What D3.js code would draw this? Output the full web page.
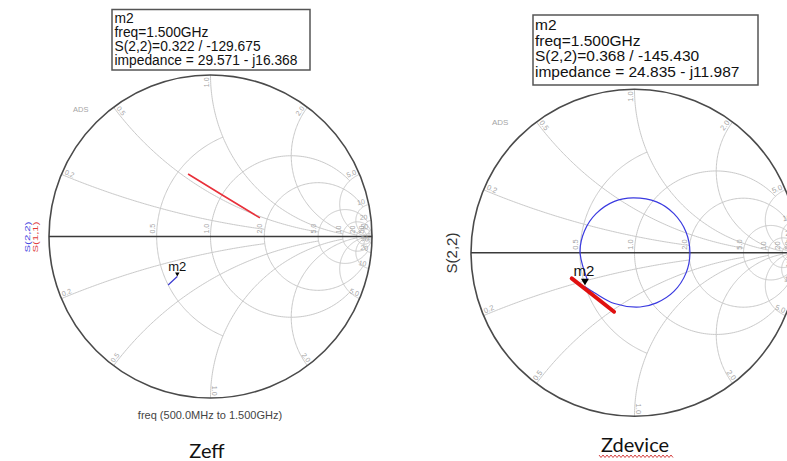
<!DOCTYPE html>
<html><head><meta charset="utf-8">
<script src="https://cdn.jsdelivr.net/npm/d3@7"></script>
<style>body{margin:0;background:#fff;} svg{display:block;}</style>
</head><body><svg id="c" width="787" height="461"></svg>
<script>
// ---------- data ----------
const resistanceValues = [0.5, 1, 2, 5, 10, 20, 50];
const resistanceLabels = ["0.5", "1.0", "2.0", "5.0", "10", "20", "50"];
const resistanceExtent = [1, 5, 10, 20, 50, Infinity, Infinity];
const reactanceValues = [0.2, 0.5, 1, 2, 5, 10, 20, 50];
const reactanceLabels = ["0.2", "0.5", "1.0", "2.0", "5.0", "10", "20", "50"];
const reactanceExtent = [2, 5, 10, 20, 50, Infinity, Infinity, Infinity];

// Zeff chart (reflection coefficient, real / imag)
const zeffS11Re = [-0.139, 0.083, 0.306];
const zeffS11Im = [0.387, 0.251, 0.115];
const zeffS22Re = [-0.262, -0.234, -0.2056];
const zeffS22Im = [-0.300, -0.274, -0.2478];
// Zdevice chart
const devS22Re = [-0.288, -0.333, -0.306, -0.235, -0.123, -0.009, 0.135, 0.241, 0.315, 0.339, 0.315, 0.241, 0.135, 0.034, -0.123, -0.245, -0.3031];
const devS22Im = [-0.167, 0.004, 0.133, 0.239, 0.314, 0.335, 0.311, 0.239, 0.127, -0.002, -0.125, -0.237, -0.307, -0.332, -0.311, -0.245, -0.2088];
const devS11Re = [-0.384, -0.255, -0.125];
const devS11Im = [-0.157, -0.259, -0.361];

const markerMag = [0.322, 0.368];
const markerAng = [-129.675, -145.430];
const markerTextLeft = ["m2", "freq=1.500GHz", "S(2,2)=0.322 / -129.675", "impedance = 29.571 - j16.368"];
const markerTextRight = ["m2", "freq=1.500GHz", "S(2,2)=0.368 / -145.430", "impedance = 24.835 - j11.987"];

// ---------- helpers ----------
const svg = d3.select("#c");
const FONT = "'Liberation Sans', Arial, sans-serif";
function gammaOf(re, im) {
  const nr = re - 1, ni = im, dr = re + 1, di = im;
  const den = dr * dr + di * di;
  return [(nr * dr + ni * di) / den, (ni * dr - nr * di) / den];
}

function drawSmith(cx, cy, R, o) {
  const g = svg.append("g");
  const x = d3.scaleLinear().domain([-1, 1]).range([cx - R, cx + R]);
  const y = d3.scaleLinear().domain([-1, 1]).range([cy + R, cy - R]);
  const line = d3.line().x(d => x(d[0])).y(d => y(d[1]));
  const grid = g.append("g").attr("fill", "none").attr("stroke", "#c9c9c9").attr("stroke-width", 1);

  // resistance circles
  resistanceValues.forEach((r, i) => {
    const c = r / (r + 1), rad = 1 / (r + 1);
    const X = resistanceExtent[i];
    let a0 = 0;
    if (isFinite(X)) { const p = gammaOf(r, X); a0 = Math.atan2(p[1], p[0] - c); }
    const pts = d3.range(0, 201).map(k => {
      const a = a0 + (2 * Math.PI - 2 * a0) * k / 200;
      return [c + rad * Math.cos(a), rad * Math.sin(a)];
    });
    grid.append("path").attr("d", line(pts));
  });
  // reactance arcs
  reactanceValues.forEach((xv, i) => {
    [xv, -xv].forEach(xx => {
      const cyy = 1 / xx, rad = Math.abs(1 / xx);
      const p0 = gammaOf(0, xx);
      const Rm = reactanceExtent[i];
      const p1 = isFinite(Rm) ? gammaOf(Rm, xx) : [1, 0];
      let a0 = Math.atan2(p0[1] - cyy, p0[0] - 1), a1 = Math.atan2(p1[1] - cyy, p1[0] - 1);
      let d = a1 - a0; while (d > Math.PI) d -= 2 * Math.PI; while (d < -Math.PI) d += 2 * Math.PI;
      const pts = d3.range(0, 121).map(k => { const a = a0 + d * k / 120; return [1 + rad * Math.cos(a), cyy + rad * Math.sin(a)]; });
      grid.append("path").attr("d", line(pts));
    });
  });
  // outer circle and axis
  g.append("circle").attr("cx", x(0)).attr("cy", y(0)).attr("r", x(1) - x(0))
    .attr("fill", "none").attr("stroke", "#4a4a4a").attr("stroke-width", 1.6);
  g.append("line").attr("x1", x(-1)).attr("x2", x(1)).attr("y1", y(0)).attr("y2", y(0))
    .attr("stroke", "#3a3a3a").attr("stroke-width", 1.5);

  // labels
  const lab = g.append("g").attr("font-family", FONT).attr("font-size", o.labSize).attr("fill", "#a5a5a5");
  resistanceValues.forEach((r, i) => {
    const gx = (r - 1) / (r + 1);
    lab.append("text").attr("transform", `translate(${x(gx) - 2},${y(0) - 3}) rotate(-90)`)
      .attr("text-anchor", "start").text(resistanceLabels[i]);
  });
  reactanceValues.forEach((xv, i) => {
    [xv, -xv].forEach(xx => {
      const p = gammaOf(0, xx);
      const th = Math.atan2(p[1], p[0]);
      const thd = th * 180 / Math.PI;
      const rr = 0.955;
      const px = x(rr * Math.cos(th)), py = y(rr * Math.sin(th));
      let rot = -thd; if (thd > 90.5 || thd < -90.5) rot += 180;
      lab.append("text").attr("transform", `translate(${px},${py}) rotate(${rot})`)
        .attr("text-anchor", "middle").attr("dy", "-0.2em").text(reactanceLabels[i]);
    });
  });
  lab.append("text").attr("x", o.adsX).attr("y", o.adsY).attr("font-size", o.labSize + 0.5).text("ADS");
  return { g, x, y, line };
}

// ---------- left chart (Zeff) ----------
const L = drawSmith(210.5, 236.5, 161.5, { labSize: 7, adsX: 73, adsY: 112 });
L.g.append("path").attr("d", L.line(zeffS11Re.map((v, i) => [v, zeffS11Im[i]])))
  .attr("fill", "none").attr("stroke", "#e8303a").attr("stroke-width", 1.6);
L.g.append("path").attr("d", L.line(zeffS22Re.map((v, i) => [v, zeffS22Im[i]])))
  .attr("fill", "none").attr("stroke", "#3a3ad0").attr("stroke-width", 1.2);
{
  const a = markerAng[0] * Math.PI / 180;
  const mx = L.x(markerMag[0] * Math.cos(a)), my = L.y(markerMag[0] * Math.sin(a));
  L.g.append("path").attr("d", `M${mx},${my} l-2.2,-4 l4.4,0 z`).attr("fill", "#000");
  L.g.append("text").attr("x", mx).attr("y", my - 6).attr("text-anchor", "middle")
    .attr("font-family", FONT).attr("font-size", 13).attr("fill", "#111").text("m2");
}
svg.append("text").attr("transform", "translate(30,237) rotate(-90)").attr("text-anchor", "middle")
  .attr("font-family", FONT).attr("font-size", 8).attr("textLength", 31).attr("lengthAdjust", "spacingAndGlyphs")
  .attr("fill", "#4545e0").text("S(2,2)");
svg.append("text").attr("transform", "translate(37.5,237) rotate(-90)").attr("text-anchor", "middle")
  .attr("font-family", FONT).attr("font-size", 8).attr("textLength", 31).attr("lengthAdjust", "spacingAndGlyphs")
  .attr("fill", "#e03a3a").text("S(1,1)");
svg.append("text").attr("x", 210).attr("y", 419).attr("text-anchor", "middle")
  .attr("font-family", FONT).attr("font-size", 11).attr("fill", "#444").text("freq (500.0MHz to 1.500GHz)");
svg.append("text").attr("x", 207).attr("y", 458).attr("text-anchor", "middle")
  .attr("font-family", "Lato, 'Open Sans', sans-serif").attr("font-size", 20).attr("fill", "#111").text("Zeff");

// marker box left
{
  const bx = svg.append("g");
  bx.append("rect").attr("x", 112).attr("y", 9.5).attr("width", 198).attr("height", 60.5)
    .attr("fill", "#fff").attr("stroke", "#555").attr("stroke-width", 1.5);
  markerTextLeft.forEach((t, i) => bx.append("text").attr("x", 114.5).attr("y", 22.5 + i * 14)
    .attr("font-family", FONT).attr("font-size", 13.8).attr("fill", "#111").text(t));
}

// ---------- right chart (Zdevice) ----------
const Rc = drawSmith(634.5, 252.7, 163.5, { labSize: 7.5, adsX: 492, adsY: 125 });
Rc.g.append("path").attr("d", Rc.line.curve(d3.curveCatmullRom)(devS22Re.map((v, i) => [v, devS22Im[i]])))
  .attr("fill", "none").attr("stroke", "#3a3ae0").attr("stroke-width", 1.2);
Rc.line.curve(d3.curveLinear);
Rc.g.append("path").attr("d", Rc.line(devS11Re.map((v, i) => [v, devS11Im[i]])))
  .attr("fill", "none").attr("stroke", "#e01010").attr("stroke-width", 4).attr("stroke-linecap", "round");
{
  const a = markerAng[1] * Math.PI / 180;
  const mx = Rc.x(markerMag[1] * Math.cos(a)), my = Rc.y(markerMag[1] * Math.sin(a));
  Rc.g.append("path").attr("d", `M${mx},${my - 1.5} l-4,-6.5 l8,0 z`).attr("fill", "#000");
  Rc.g.append("text").attr("x", mx - 1).attr("y", my - 11).attr("text-anchor", "middle")
    .attr("font-family", FONT).attr("font-size", 15).attr("fill", "#111").text("m2");
}
svg.append("text").attr("transform", "translate(457,253) rotate(-90)").attr("text-anchor", "middle")
  .attr("font-family", FONT).attr("font-size", 15).attr("fill", "#333").text("S(2,2)");
svg.append("text").attr("x", 635).attr("y", 452).attr("text-anchor", "middle")
  .attr("font-family", "Lato, 'Open Sans', sans-serif").attr("font-size", 20).attr("fill", "#111").text("Zdevice");
{
  let d = "M599,455";
  for (let xx = 599, k = 0; xx < 673; xx += 2, k++) d += ` L${xx + 2},${k % 2 ? 455 : 457.5}`;
  svg.append("path").attr("d", d).attr("fill", "none").attr("stroke", "#d03030").attr("stroke-width", 0.9);
}
{
  const bx = svg.append("g");
  bx.append("rect").attr("x", 533).attr("y", 15).attr("width", 225).attr("height", 70)
    .attr("fill", "#fff").attr("stroke", "#555").attr("stroke-width", 1.5);
  markerTextRight.forEach((t, i) => bx.append("text").attr("x", 535).attr("y", 30 + i * 15.6)
    .attr("font-family", FONT).attr("font-size", 15.5).attr("fill", "#111").text(t));
}
</script></body></html>
